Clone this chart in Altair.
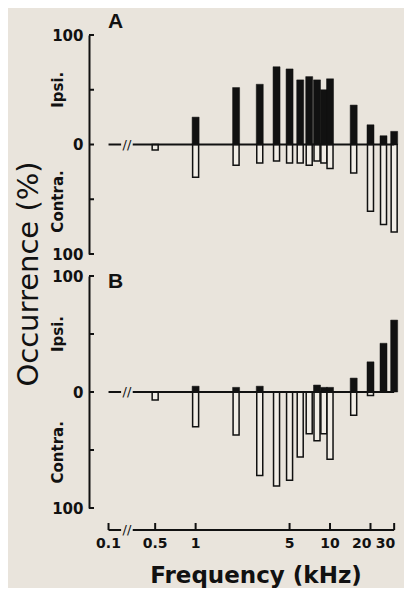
import math
import altair as alt
import pandas as pd

# ---------------- data ----------------
FREQS = [0.5, 1, 2, 3, 4, 5, 6, 7, 8, 9, 10, 15, 20, 25, 30]          # kHz
IPSI_A = [0, 25, 52, 55, 71, 69, 59, 62, 59, 50, 60, 36, 18, 8, 12]      # %
CONTRA_A = [5, 30, 19, 17, 15, 17, 17, 19, 15, 17, 22, 26, 61, 73, 80]   # %
IPSI_B = [0, 5, 4, 5, 0, 0, 0, 0, 6, 4, 4, 12, 26, 42, 62]               # %
CONTRA_B = [7, 30, 37, 72, 81, 76, 56, 36, 42, 36, 58, 20, 3, 0, 0]      # %

X_TICKS = [0.1, 0.5, 1, 5, 10, 20, 30]
X_TICK_LABELS = ["0.1", "0.5", "1", "5", "10", "20", "30"]
Y_TICKS = [-100, -50, 0, 50, 100]
Y_LABEL_TICKS = [-100, 0, 100]
SIDE_LABELS = ["Ipsi.", "Contra."]
SIDE_LEVELS = [50, -52]

# ---------------- broken log axis ----------------
GAP = 0.347          # decades between 0.1 (placed after the break) and 0.5
PX_PER_DEC = 138.8


def pos(f):
    return math.log10(f) if f >= 0.5 else math.log10(0.5) - GAP


P01 = pos(0.1)
BREAK_L = P01 + 13 / PX_PER_DEC
BREAK_R = P01 + 25 / PX_PER_DEC
BREAK_C = (BREAK_L + BREAK_R) / 2
X_DOMAIN = [P01 - 15 / PX_PER_DEC, pos(30) + 5 / PX_PER_DEC]

BG = "#e9e4dc"
OPEN_FILL = "#f1ede6"
INK = "#111111"
FONT = "DejaVu Sans"
W = 315
H_A = 219
H_B = 232

xs = alt.Scale(domain=X_DOMAIN, nice=False, zero=False)
ys = alt.Scale(domain=[-100, 100], nice=False, zero=False)

seg_df = pd.DataFrame({"x0": [P01, BREAK_R], "x1": [BREAK_L, pos(30)], "zero": [0, 0]})
brk_df = pd.DataFrame({"x": [BREAK_C], "zero": [0], "t": ["//"]})
tick_df = pd.DataFrame({"v": Y_TICKS})
side_df = pd.DataFrame({"t": SIDE_LABELS, "v": SIDE_LEVELS})
xt_df = pd.DataFrame({"f": X_TICKS, "x": [pos(f) for f in X_TICKS], "lab": X_TICK_LABELS})


def panel(ipsi, contra, letter, height, letter_y, bottom_axis):
    df = pd.DataFrame({
        "x": [pos(f) for f in FREQS],
        "ipsi": ipsi,
        "contra": [-c for c in contra],
        "zero": [0] * len(FREQS),
    })
    X = alt.X("x:Q", scale=xs, axis=None)
    yaxis = alt.Axis(values=Y_LABEL_TICKS, labelExpr="'' + abs(datum.value)", title=None,
                     domain=True, domainColor=INK, domainWidth=2, ticks=False, grid=False,
                     labelFont=FONT, labelFontSize=15, labelFontWeight="bold",
                     labelColor=INK, labelPadding=6)
    base = alt.Chart(df)
    contra_bars = base.transform_filter("datum.contra < 0").mark_bar(
        size=6, fill=OPEN_FILL, stroke=INK, strokeWidth=1.5).encode(
        x=X, y=alt.Y("contra:Q", scale=ys, axis=yaxis), y2="zero:Q")
    ipsi_bars = base.transform_filter("datum.ipsi > 0").mark_bar(
        size=7, fill=INK, stroke=INK, strokeWidth=0.5).encode(
        x=X, y=alt.Y("ipsi:Q", scale=ys), y2="zero:Q")
    zero = alt.Chart(seg_df).mark_rule(color=INK, strokeWidth=2).encode(
        x=alt.X("x0:Q", scale=xs, axis=None), x2="x1:Q", y=alt.Y("zero:Q", scale=ys))
    brk = alt.Chart(brk_df).mark_text(font=FONT, fontSize=13, color=INK, baseline="middle").encode(
        x=alt.X("x:Q", scale=xs, axis=None), y=alt.Y("zero:Q", scale=ys), text="t:N")
    yt = alt.Chart(tick_df).mark_rule(color=INK, strokeWidth=2).encode(
        y=alt.Y("v:Q", scale=ys), x=alt.value(0), x2=alt.value(5))
    side = alt.Chart(side_df).mark_text(font=FONT, fontSize=15, fontWeight="bold", color=INK,
                                        angle=270, align="center", baseline="middle").encode(
        y=alt.Y("v:Q", scale=ys), x=alt.value(-31), text="t:N")
    let = alt.Chart(pd.DataFrame({"t": [letter]})).mark_text(
        font="Liberation Sans", fontSize=21, fontWeight="bold", color=INK,
        align="left", baseline="alphabetic").encode(
        x=alt.value(19), y=alt.value(letter_y), text="t:N")
    layers = [contra_bars, ipsi_bars, zero, brk, yt, side, let]
    if bottom_axis:
        ay = height + 22
        axl = alt.Chart(seg_df).mark_rule(color=INK, strokeWidth=2).encode(
            x=alt.X("x0:Q", scale=xs, axis=None), x2="x1:Q", y=alt.value(ay))
        axb = alt.Chart(brk_df).mark_text(font=FONT, fontSize=13, color=INK, baseline="middle").encode(
            x=alt.X("x:Q", scale=xs, axis=None), y=alt.value(ay), text="t:N")
        axt = alt.Chart(xt_df).mark_rule(color=INK, strokeWidth=2).encode(
            x=alt.X("x:Q", scale=xs, axis=None), y=alt.value(ay), y2=alt.value(ay - 7))
        labc = alt.Chart(xt_df).transform_filter("datum.f < 20").mark_text(
            font=FONT, fontSize=14, fontWeight="bold", color=INK,
            align="center", baseline="alphabetic").encode(
            x=alt.X("x:Q", scale=xs, axis=None), y=alt.value(ay + 18), text="lab:N")
        labr = alt.Chart(xt_df).transform_filter("datum.f >= 20").mark_text(
            font=FONT, fontSize=14, fontWeight="bold", color=INK,
            align="right", baseline="alphabetic", dx=1).encode(
            x=alt.X("x:Q", scale=xs, axis=None), y=alt.value(ay + 18), text="lab:N")
        xtitle = alt.Chart(pd.DataFrame({"t": ["Frequency (kHz)"]})).mark_text(
            font=FONT, fontSize=23, fontWeight="bold", color=INK,
            align="center", baseline="alphabetic").encode(
            x=alt.value(167), y=alt.value(307), text="t:N")
        ytitle = alt.Chart(pd.DataFrame({"t": ["Occurrence (%)"]})).mark_text(
            font=FONT, fontSize=29, color=INK, angle=270,
            align="center", baseline="middle").encode(
            x=alt.value(-60), y=alt.value(-2), text="t:N")
        layers += [axl, axb, axt, labc, labr, xtitle, ytitle]
    return alt.layer(*layers).properties(width=W, height=height)


pa = panel(IPSI_A, CONTRA_A, "A", H_A, -7, False)
pb = panel(IPSI_B, CONTRA_B, "B", H_B, 12, True)

chart = alt.vconcat(pa, pb, spacing=22, bounds="flush").properties(
    background=BG,
    padding={"left": 6, "top": 3, "right": 0, "bottom": 0},
).configure_view(stroke=None)

chart.save("out.html", embed_options={"renderer": "svg", "actions": False})
